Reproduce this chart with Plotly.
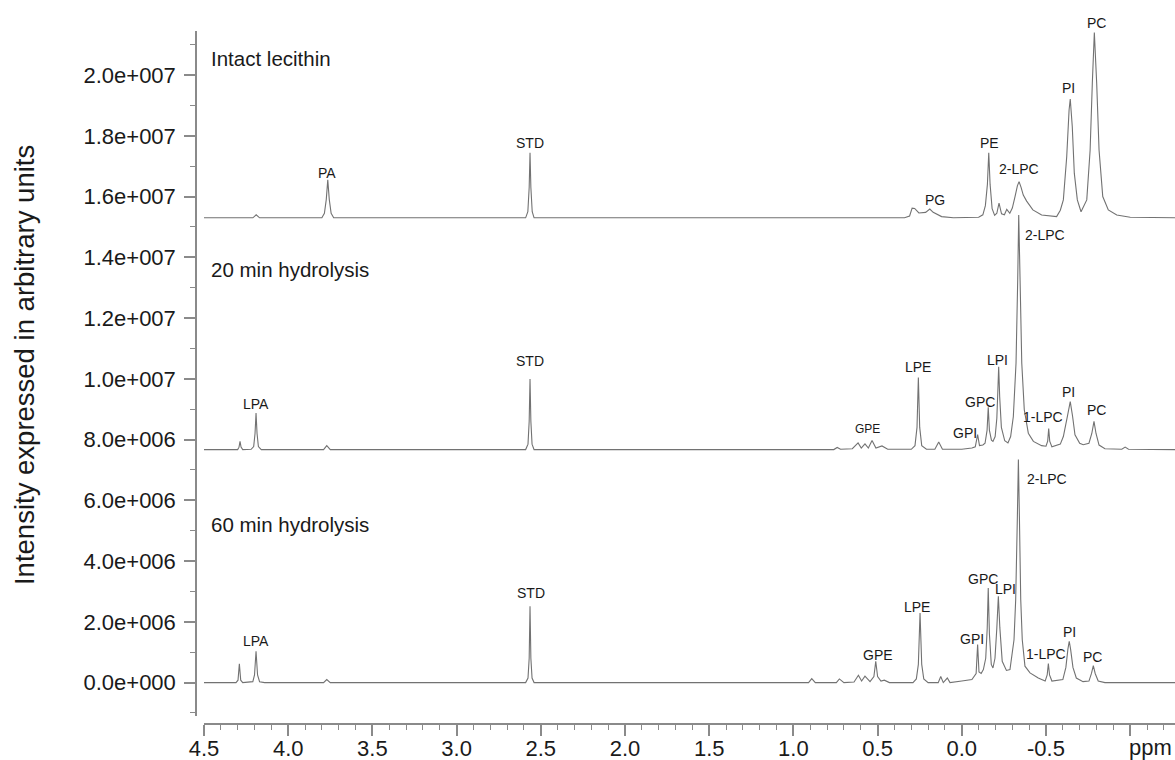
import plotly.graph_objects as go

# 31P NMR spectra of lecithin before and during enzymatic hydrolysis.
# Each spectrum is a list of (chemical shift in ppm, intensity in units of 1e6).
intact_points = [
    (4.50, 15.30), (4.21, 15.30), (4.19, 15.40), (4.17, 15.30),
    (3.80, 15.30), (3.785, 15.45), (3.774, 15.90), (3.765, 16.55), (3.756, 15.90), (3.745, 15.45), (3.73, 15.30),
    (2.59, 15.30), (2.577, 15.50), (2.569, 16.30), (2.564, 17.44), (2.559, 16.30), (2.551, 15.50), (2.54, 15.30),
    (0.34, 15.30), (0.31, 15.36), (0.295, 15.62), (0.28, 15.61), (0.255, 15.46), (0.215, 15.48),
    (0.19, 15.59), (0.17, 15.48), (0.12, 15.34), (0.05, 15.30),
    (-0.10, 15.32), (-0.125, 15.40), (-0.14, 15.70), (-0.152, 16.40), (-0.160, 17.44), (-0.168, 16.40),
    (-0.18, 15.60), (-0.195, 15.38), (-0.208, 15.45), (-0.221, 15.78), (-0.236, 15.43), (-0.253, 15.40),
    (-0.267, 15.58), (-0.285, 15.45),
    (-0.300, 15.62), (-0.316, 16.00), (-0.330, 16.35), (-0.340, 16.49), (-0.352, 16.30), (-0.365, 16.05),
    (-0.385, 15.85), (-0.422, 15.56), (-0.474, 15.39), (-0.563, 15.34),
    (-0.585, 15.55), (-0.603, 15.89), (-0.623, 17.31), (-0.637, 18.85), (-0.644, 19.21), (-0.656, 18.30),
    (-0.668, 16.77), (-0.686, 15.89), (-0.708, 15.50),
    (-0.742, 15.89), (-0.762, 17.53), (-0.775, 19.73), (-0.787, 21.40), (-0.801, 19.73), (-0.815, 17.53),
    (-0.837, 16.00), (-0.870, 15.56), (-0.920, 15.39), (-1.00, 15.32), (-1.27, 15.30),
]

min20_points = [
    (4.50, 7.67), (4.30, 7.67), (4.292, 7.75), (4.286, 7.94), (4.280, 7.75), (4.27, 7.67),
    (4.22, 7.68), (4.205, 7.77), (4.197, 8.20), (4.191, 8.87), (4.185, 8.20), (4.177, 7.77), (4.16, 7.67),
    (3.79, 7.67), (3.771, 7.80), (3.75, 7.67),
    (2.59, 7.67), (2.576, 7.85), (2.569, 8.60), (2.564, 9.99), (2.559, 8.60), (2.552, 7.85), (2.54, 7.67),
    (0.76, 7.67), (0.74, 7.74), (0.72, 7.68), (0.65, 7.70), (0.616, 7.89), (0.597, 7.72), (0.575, 7.86),
    (0.555, 7.72), (0.533, 7.97), (0.51, 7.72), (0.474, 7.79), (0.44, 7.68),
    (0.30, 7.68), (0.278, 7.80), (0.266, 8.40), (0.258, 10.04), (0.250, 8.40), (0.238, 7.80), (0.21, 7.68),
    (0.16, 7.68), (0.137, 7.92), (0.115, 7.68), (0.0, 7.68), (-0.06, 7.72),
    (-0.08, 7.76), (-0.094, 8.16), (-0.105, 7.80), (-0.125, 7.82),
    (-0.138, 7.88), (-0.150, 8.30), (-0.157, 9.06), (-0.164, 8.30), (-0.176, 7.98), (-0.185, 7.94),
    (-0.198, 8.10), (-0.208, 8.70), (-0.214, 9.60), (-0.219, 10.40), (-0.225, 9.40), (-0.235, 8.40),
    (-0.255, 7.96), (-0.274, 7.89),
    (-0.290, 8.10), (-0.306, 8.76), (-0.322, 10.52), (-0.332, 13.26), (-0.338, 15.39), (-0.346, 13.26),
    (-0.356, 10.52), (-0.371, 8.98), (-0.395, 8.21), (-0.425, 7.94), (-0.474, 7.80),
    (-0.500, 7.78), (-0.510, 7.95), (-0.516, 8.36), (-0.522, 7.95), (-0.535, 7.76),
    (-0.585, 7.85), (-0.603, 8.10), (-0.627, 8.76), (-0.644, 9.25), (-0.658, 8.76), (-0.672, 8.16),
    (-0.700, 7.88), (-0.721, 7.83),
    (-0.755, 7.88), (-0.772, 8.20), (-0.785, 8.60), (-0.797, 8.20), (-0.815, 7.82), (-0.85, 7.70),
    (-0.95, 7.68), (-0.97, 7.75), (-0.99, 7.68), (-1.27, 7.67),
]

min60_points = [
    (4.50, 0.0), (4.31, 0.0), (4.298, 0.08), (4.290, 0.62), (4.282, 0.08), (4.27, 0.0),
    (4.21, 0.03), (4.200, 0.25), (4.191, 1.03), (4.182, 0.25), (4.17, 0.03), (4.14, 0.0),
    (3.79, 0.0), (3.771, 0.10), (3.75, 0.0),
    (2.59, 0.0), (2.576, 0.15), (2.569, 0.80), (2.564, 2.51), (2.559, 0.80), (2.552, 0.15), (2.54, 0.0),
    (0.91, 0.0), (0.891, 0.13), (0.87, 0.0), (0.745, 0.0), (0.727, 0.12), (0.70, 0.0),
    (0.64, 0.02), (0.614, 0.24), (0.595, 0.05), (0.575, 0.21), (0.545, 0.03), (0.522, 0.20),
    (0.511, 0.70), (0.500, 0.20), (0.48, 0.05), (0.46, 0.08), (0.43, 0.0),
    (0.29, 0.0), (0.27, 0.12), (0.258, 0.60), (0.248, 2.29), (0.238, 0.60), (0.226, 0.12), (0.20, 0.0),
    (0.14, 0.0), (0.125, 0.20), (0.11, 0.0), (0.086, 0.15), (0.07, 0.0), (0.0, 0.05), (-0.06, 0.10),
    (-0.085, 0.30), (-0.094, 1.25), (-0.102, 0.35), (-0.115, 0.30), (-0.128, 0.43),
    (-0.142, 0.80), (-0.151, 1.80), (-0.157, 3.11), (-0.164, 1.60), (-0.175, 0.60), (-0.185, 0.48),
    (-0.197, 0.80), (-0.208, 1.80), (-0.217, 2.84), (-0.226, 1.80), (-0.24, 0.70), (-0.265, 0.40),
    (-0.286, 0.43), (-0.310, 1.41), (-0.320, 2.73), (-0.330, 5.47), (-0.336, 7.34), (-0.342, 5.47),
    (-0.350, 2.73), (-0.359, 1.41), (-0.375, 0.54), (-0.405, 0.32), (-0.454, 0.15),
    (-0.495, 0.05), (-0.507, 0.25), (-0.514, 0.63), (-0.521, 0.25), (-0.535, 0.05),
    (-0.600, 0.10), (-0.618, 0.50), (-0.630, 1.10), (-0.638, 1.36), (-0.646, 1.10), (-0.660, 0.50),
    (-0.68, 0.15), (-0.72, 0.03),
    (-0.755, 0.05), (-0.770, 0.30), (-0.781, 0.56), (-0.792, 0.30), (-0.81, 0.05), (-0.85, 0.0), (-1.27, 0.0),
]

# Peak assignments: (text, ppm, intensity in units of 1e6, anchor)
intact_labels = [
    ("PA", 3.77, 16.79, "center"), ("STD", 2.564, 17.77, "center"), ("PG", 0.159, 15.89, "center"),
    ("PE", -0.163, 17.75, "center"), ("2-LPC", -0.342, 16.90, "center"), ("PI", -0.632, 19.56, "center"),
]
min20_labels = [
    ("LPA", 4.19, 9.17, "center"), ("STD", 2.564, 10.59, "center"), ("LPE", 0.258, 10.40, "center"),
    ("GPI", -0.019, 8.21, "center"), ("GPC", -0.108, 9.25, "center"), ("LPI", -0.211, 10.62, "center"),
    ("2-LPC", -0.365, 14.74, "left"), ("1-LPC", -0.480, 8.73, "center"), ("PI", -0.632, 9.56, "center"),
    ("PC", -0.801, 8.98, "center"),
]
min20_small_labels = [("GPE", 0.559, 8.36, "center")]
min60_labels = [
    ("LPA", 4.19, 1.36, "center"), ("STD", 2.56, 2.95, "center"), ("GPE", 0.496, 0.92, "center"),
    ("LPE", 0.264, 2.49, "center"), ("GPI", -0.059, 1.44, "center"), ("GPC", -0.128, 3.41, "center"),
    ("LPI", -0.257, 3.08, "center"), ("2-LPC", -0.376, 6.70, "left"), ("1-LPC", -0.498, 0.95, "center"),
    ("PI", -0.637, 1.65, "center"), ("PC", -0.777, 0.85, "center"),
]
# PC label of the intact spectrum sits just above its apex
intact_top_label = ("PC", -0.801, 21.40)

panel_titles = [("Intact lecithin", 20.56), ("20 min hydrolysis", 13.59), ("60 min hydrolysis", 5.20)]

y_tick_values = [i * 2e6 for i in range(11)]
y_tick_text = ["0.0e+000", "2.0e+006", "4.0e+006", "6.0e+006", "8.0e+006", "1.0e+007",
               "1.2e+007", "1.4e+007", "1.6e+007", "1.8e+007", "2.0e+007"]
x_tick_values = [4.5, 4.0, 3.5, 3.0, 2.5, 2.0, 1.5, 1.0, 0.5, 0.0, -0.5, -1.0]
x_tick_text = ["4.5", "4.0", "3.5", "3.0", "2.5", "2.0", "1.5", "1.0", "0.5", "0.0", "-0.5", ""]

FONT = "Liberation Sans, Arial, sans-serif"
LINE = "#727272"
AXIS = "#8a8a8a"
TEXT = "#1a1a1a"
MEGA = 1e6

fig = go.Figure()
for pts in (intact_points, min20_points, min60_points):
    fig.add_trace(go.Scatter(
        x=[p[0] for p in pts], y=[p[1] * MEGA for p in pts], mode="lines",
        line=dict(color=LINE, width=1.1, simplify=False), hoverinfo="skip", showlegend=False,
    ))

annotations = []
for group, size in ((intact_labels, 14), (min20_labels, 14), (min20_small_labels, 12), (min60_labels, 14)):
    for text, ppm, val, anchor in group:
        annotations.append(dict(x=ppm, y=val * MEGA, xref="x", yref="y", text=text, showarrow=False,
                                xanchor=anchor, yanchor="middle",
                                font=dict(family=FONT, size=size, color=TEXT)))
pc_text, pc_ppm, pc_val = intact_top_label
annotations.append(dict(x=pc_ppm, y=pc_val * MEGA, xref="x", yref="y", text=pc_text, showarrow=False,
                        xanchor="center", yanchor="middle", yshift=10,
                        font=dict(family=FONT, size=14, color=TEXT)))
for text, val in panel_titles:
    annotations.append(dict(x=4.47, y=val * MEGA, xref="x", yref="y", text=text, showarrow=False,
                            xanchor="left", yanchor="middle",
                            font=dict(family=FONT, size=20.5, color=TEXT)))
annotations.append(dict(x=-1.118, y=-0.034, xref="x", yref="paper", text="ppm", showarrow=False,
                        xanchor="center", yanchor="middle", font=dict(family=FONT, size=22, color=TEXT)))
annotations.append(dict(x=-0.1757, y=0.518, xref="paper", yref="paper",
                        text="Intensity expressed in arbitrary units", textangle=-90, showarrow=False,
                        xanchor="center", yanchor="middle", font=dict(family=FONT, size=27.5, color=TEXT)))

fig.update_layout(
    width=1175, height=760,
    margin=dict(l=196, r=0, t=31, b=36, autoexpand=False),
    paper_bgcolor="white", plot_bgcolor="white",
    annotations=annotations,
    xaxis=dict(
        range=[4.5, -1.266], domain=[8 / 979, 1], anchor="free", position=0, automargin=False,
        showgrid=False, zeroline=False, showline=True, linecolor=AXIS, linewidth=1.5,
        tickmode="array", tickvals=x_tick_values, ticktext=x_tick_text,
        ticks="outside", ticklen=11, tickwidth=1.5, tickcolor=AXIS, ticklabelstandoff=-6,
        minor=dict(tickmode="linear", tick0=0, dtick=0.1, ticks="outside", ticklen=5, tickwidth=1, tickcolor=AXIS),
        tickfont=dict(family=FONT, size=22, color=TEXT),
    ),
    yaxis=dict(
        range=[-1.1e6, 21.45e6], domain=[8 / 693, 1], anchor="free", position=0, automargin=False,
        showgrid=False, zeroline=False, showline=True, linecolor=AXIS, linewidth=1.5,
        tickmode="array", tickvals=y_tick_values, ticktext=y_tick_text,
        ticks="outside", ticklen=11, tickwidth=1.5, tickcolor=AXIS, ticklabelstandoff=4,
        minor=dict(tickmode="linear", tick0=0, dtick=1e6, ticks="outside", ticklen=5, tickwidth=1, tickcolor=AXIS),
        tickfont=dict(family=FONT, size=22, color=TEXT),
    ),
)

fig.write_html("out.html")
